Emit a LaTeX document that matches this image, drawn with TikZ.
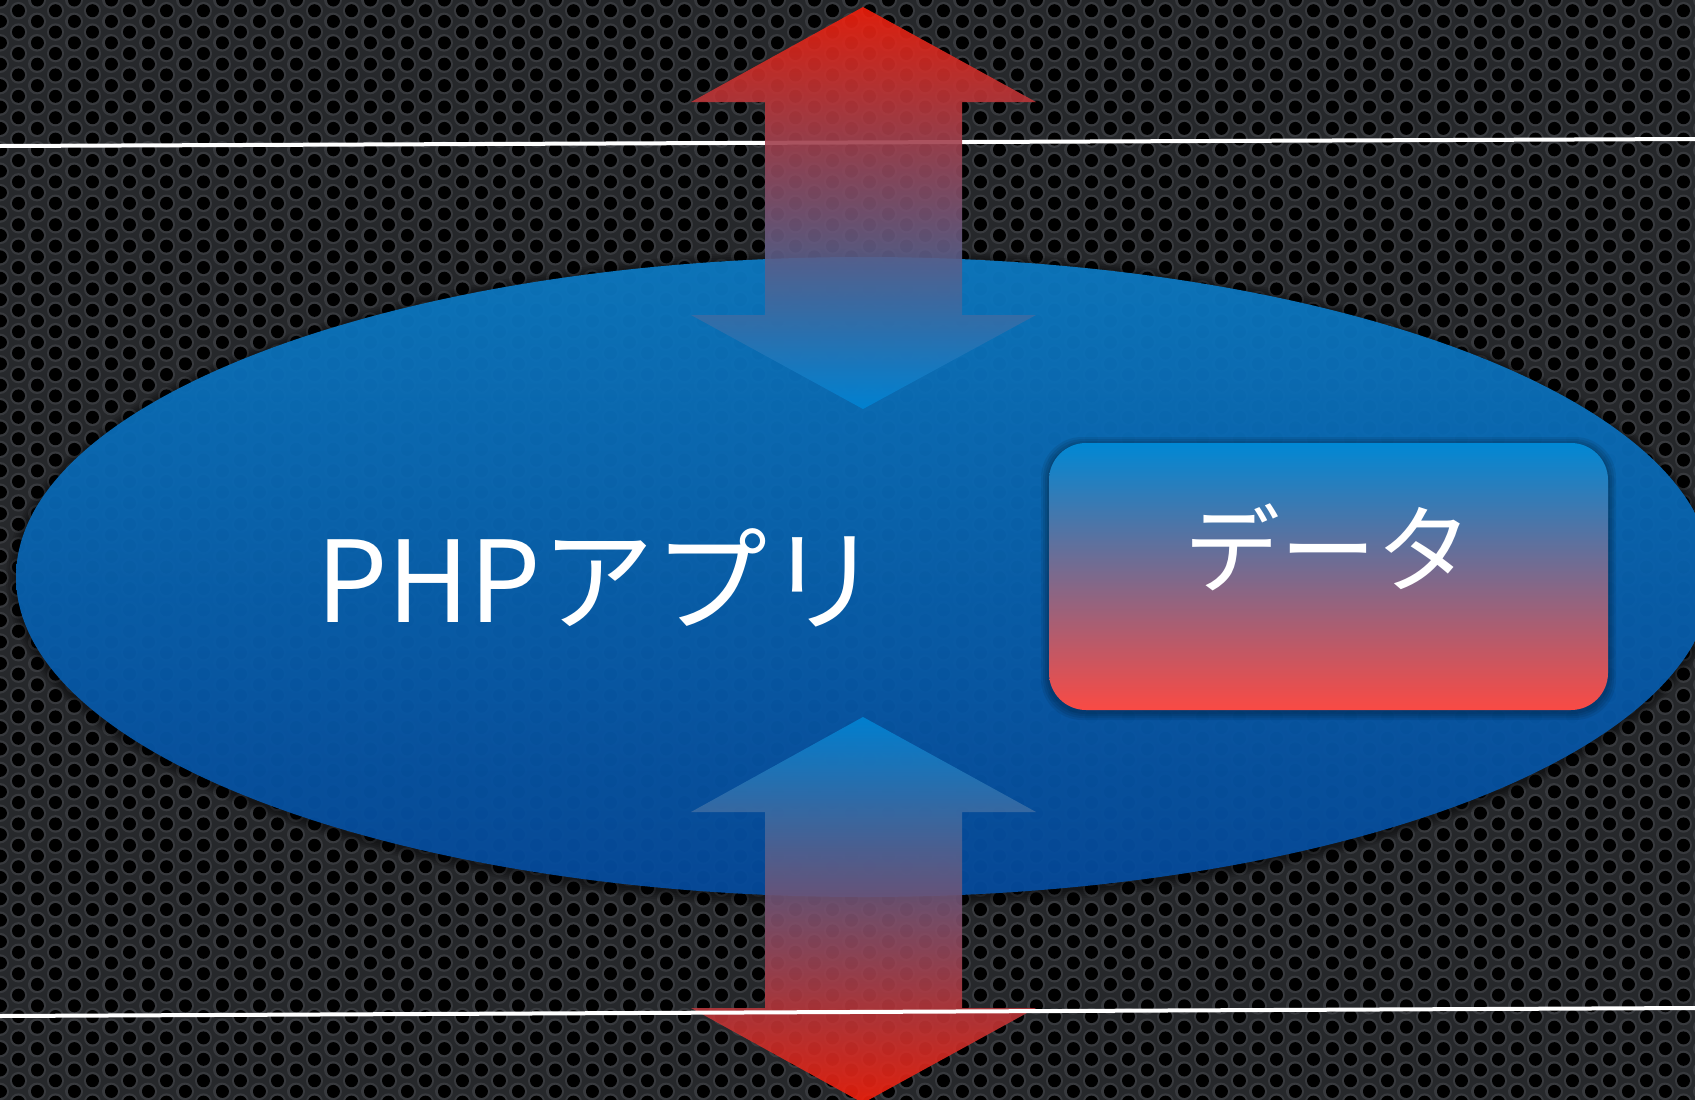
\documentclass[tikz,border=0pt]{standalone}
\usepackage{fontspec}
\newfontfamily\jpfont{Noto Sans CJK JP}
\definecolor{bgbase}{RGB}{38,40,43}
\definecolor{bgring}{RGB}{56,58,62}
\definecolor{elltop}{RGB}{12,124,198}
\definecolor{ellbot}{RGB}{5,76,160}
\definecolor{ared}{RGB}{242,30,10}
\definecolor{amid}{RGB}{135,72,118}
\definecolor{ablue}{RGB}{0,132,212}
\definecolor{dtop}{RGB}{0,136,212}
\definecolor{dmid}{RGB}{128,102,148}
\definecolor{dbot}{RGB}{250,74,68}
\tikzset{
  sepline/.style={draw=white, line width=4pt},
  ringcol/.style={draw=bgring, line width=17.6pt, line cap=round, dash pattern=on 0.01pt off 21.39pt},
  holecol/.style={draw=black, line width=13pt, line cap=round, dash pattern=on 0.01pt off 21.39pt},
  arrowdown/.style={top color=ared, middle color=amid, bottom color=ablue, opacity=0.9},
  arrowup/.style={top color=ablue, middle color=amid, bottom color=ared, opacity=0.9},
  label/.style={text=white, inner sep=0pt, font=\jpfont},
}
\begin{document}
\begin{tikzpicture}[x=1pt,y=-1pt]
\useasboundingbox (0,0) rectangle (1695,1100);
\clip (0,0) rectangle (1695,1100);
% perforated background
\fill[bgbase] (0,0) rectangle (1695,1100);
\foreach \i in {0,...,92} {
  \pgfmathsetmacro\xx{\i*18.5}
  \pgfmathsetmacro\yo{mod(\i,2)*10.7-21.4}
  \draw[ringcol] (\xx,\yo) -- (\xx,1130);
  \draw[holecol] (\xx,\yo) -- (\xx,1130);
}
% top separator line
\draw[sepline] (0,146) -- (1695,139);
% ellipse shadow
\foreach \k in {1,...,5} {
  \fill[black, opacity=0.10] (864,579) ellipse [x radius={848+2*\k}, y radius={320+2*\k}];
}
% ellipse
\shade[top color=elltop, bottom color=ellbot, opacity=0.92] (864,577) ellipse [x radius=848, y radius=320];
% top double arrow
\shade[arrowdown] (863,7) -- (1036,102) -- (962,102) -- (962,315) -- (1036,315) -- (863,409)
  -- (691,315) -- (765,315) -- (765,102) -- (691,102) -- cycle;
% bottom double arrow
\shade[arrowup] (863,717) -- (1036,812) -- (962,812) -- (962,1008) -- (1036,1008) -- (863,1103)
  -- (691,1008) -- (765,1008) -- (765,812) -- (691,812) -- cycle;
% bottom separator line
\draw[sepline] (0,1016) -- (1695,1008);
% data box shadow
\foreach \k in {1,...,4} {
  \fill[black, opacity=0.08, rounded corners={37pt+\k pt}] ({1049-2*\k},{445-2*\k}) rectangle ({1608+2*\k},{712+2*\k});
}
% data box
\shade[top color=dtop, middle color=dmid, bottom color=dbot, rounded corners=37pt] (1049,443) rectangle (1608,710);
% labels
\node[label, anchor=base west, font=\jpfont\fontsize{113}{120}\selectfont] (php) at (316,622) {PHPアプリ};
\node[label, anchor=base, font=\jpfont\fontsize{96}{110}\selectfont] (data) at (1328,585) {データ};
\end{tikzpicture}
\end{document}
